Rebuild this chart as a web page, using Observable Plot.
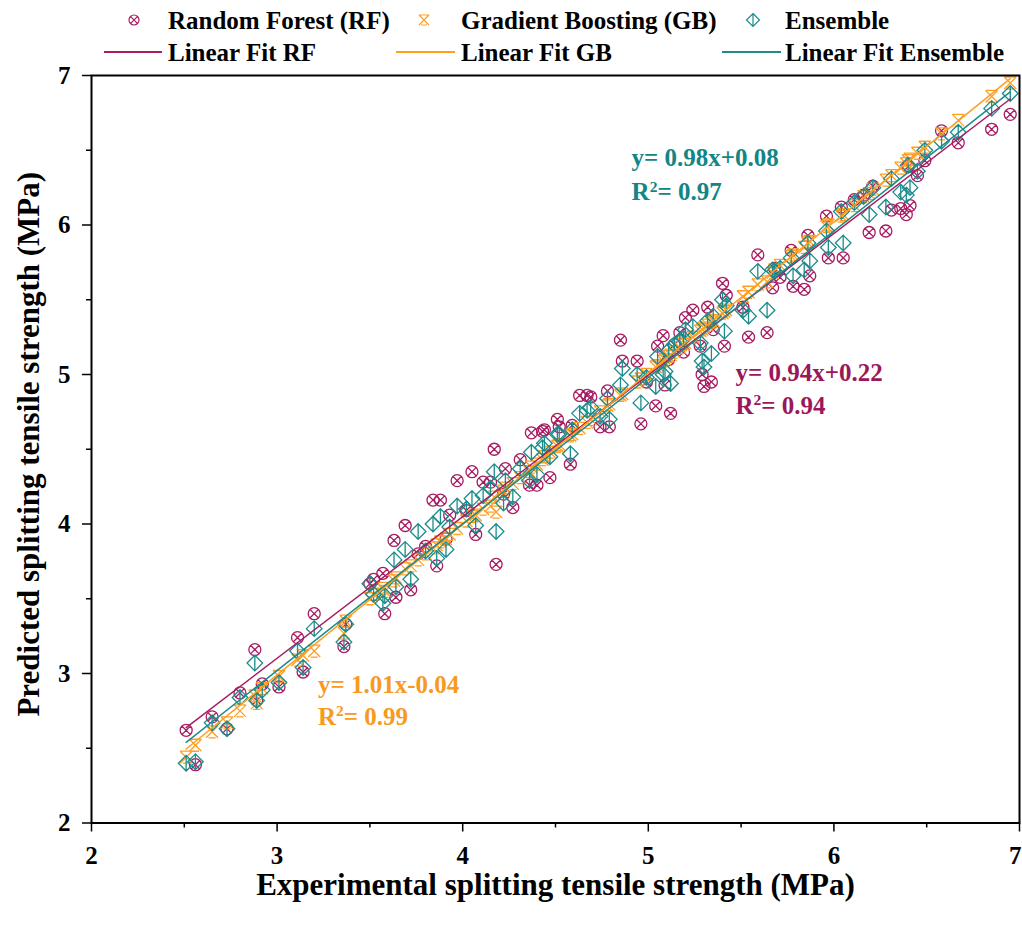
<!DOCTYPE html>
<html><head><meta charset="utf-8">
<script src="https://cdn.jsdelivr.net/npm/d3@7"></script>
<script src="https://cdn.jsdelivr.net/npm/@observablehq/plot@0.6"></script>
<style>
body{margin:0;background:#fff;}
#wrap{position:relative;width:1022px;height:925px;}
</style></head><body><div id="wrap"></div>
<script>
// ---------- data ----------
const experimental = [2.51,2.56,2.65,2.73,2.80,2.88,2.89,2.92,3.01,3.11,3.14,3.20,3.36,3.37,
3.50,3.52,3.57,3.58,3.63,3.64,3.69,3.72,3.76,3.80,3.84,3.86,3.88,3.91,3.93,3.97,
4.02,4.05,4.07,4.11,4.15,4.17,4.18,4.22,4.23,4.27,4.31,4.36,4.37,4.40,4.43,4.44,4.47,4.51,4.52,4.58,
4.59,4.63,4.67,4.69,4.74,4.78,4.79,4.85,4.86,4.94,4.96,4.99,5.04,5.05,5.08,5.09,5.11,5.12,5.14,5.17,
5.19,5.20,5.24,5.28,5.29,5.30,5.32,5.34,5.35,5.40,5.41,5.42,5.51,5.54,5.59,5.64,5.67,5.68,5.71,5.77,
5.78,5.84,5.86,5.87,5.96,5.97,6.04,6.05,6.11,6.16,6.19,6.21,6.28,6.31,6.36,6.39,6.40,6.41,6.45,6.49,
6.58,6.67,6.85,6.95];
const predictedRF = [2.62,2.39,2.71,2.63,2.87,3.16,2.82,2.93,2.91,3.24,3.01,3.40,3.18,3.33,
3.60,3.63,3.67,3.40,3.89,3.51,3.99,3.56,3.80,3.85,4.16,3.72,4.16,3.90,4.06,4.29,
4.09,4.35,3.93,4.28,4.28,4.50,3.73,4.20,4.37,4.11,4.43,4.26,4.61,4.26,4.62,4.63,4.31,4.70,4.65,4.40,
4.66,4.86,4.86,4.85,4.65,4.89,4.65,5.23,5.09,5.09,4.67,4.95,4.79,5.19,5.26,4.93,5.10,4.74,5.20,5.28,
5.15,5.38,5.43,5.19,5.00,4.92,5.45,4.95,5.30,5.61,5.19,5.53,5.45,5.25,5.80,5.28,5.58,5.71,5.65,5.83,
5.59,5.57,5.93,5.66,6.06,5.78,6.12,5.78,6.17,6.20,5.95,6.26,5.96,6.10,6.11,6.07,6.39,6.13,6.33,6.43,
6.63,6.55,6.64,6.74];
const predictedGB = [2.44,2.52,2.61,2.67,2.75,2.85,2.80,2.90,2.98,3.09,3.12,3.15,3.27,3.35,
3.50,3.53,3.57,3.55,3.62,3.64,3.70,3.72,3.76,3.80,3.84,3.86,3.88,3.90,3.93,3.97,
4.02,4.05,4.06,4.10,4.12,4.18,4.08,4.22,4.24,4.27,4.31,4.35,4.38,4.40,4.43,4.45,4.48,4.52,4.53,4.59,
4.60,4.64,4.68,4.70,4.75,4.79,4.80,4.86,4.87,4.95,4.97,5.00,5.05,5.06,5.09,5.10,5.12,5.13,5.15,5.18,
5.20,5.21,5.25,5.29,5.30,5.31,5.33,5.35,5.36,5.41,5.42,5.43,5.52,5.55,5.60,5.62,5.68,5.70,5.73,5.79,
5.80,5.85,5.88,5.89,5.99,6.00,6.06,6.07,6.13,6.19,6.21,6.24,6.30,6.33,6.38,6.41,6.43,6.44,6.48,6.52,
6.61,6.70,6.86,6.95];
const predictedEnsemble = [2.40,2.41,2.67,2.63,2.84,3.07,2.82,2.89,2.94,3.15,3.04,3.30,3.21,3.33,
3.60,3.53,3.47,3.52,3.76,3.58,3.83,3.63,3.95,3.82,4.00,3.77,4.05,3.83,3.98,4.12,
4.10,4.17,3.99,4.19,4.24,4.35,3.95,4.14,4.29,4.18,4.37,4.29,4.48,4.33,4.51,4.54,4.45,4.60,4.60,4.47,
4.63,4.74,4.76,4.78,4.72,4.84,4.70,4.93,5.04,5.00,4.81,4.98,4.92,5.12,5.00,5.02,5.16,4.94,5.20,5.22,
5.24,5.30,5.32,5.21,5.09,5.05,5.36,5.14,5.39,5.50,5.29,5.46,5.43,5.39,5.69,5.43,5.70,5.69,5.71,5.78,
5.66,5.70,5.88,5.76,5.96,5.85,6.09,5.88,6.15,6.19,6.07,6.25,6.12,6.31,6.22,6.20,6.40,6.25,6.36,6.50,
6.56,6.62,6.78,6.88];

const seriesNames = ["Random Forest (RF)", "Gradient Boosting (GB)", "Ensemble"];
const fitNames = ["Linear Fit RF", "Linear Fit GB", "Linear Fit Ensemble"];
const fitSlope = [0.947, 1.01, 0.98];
const fitIntercept = [0.261, -0.04, 0.08];
const eqText = ["y= 0.94x+0.22", "y= 1.01x-0.04", "y= 0.98x+0.08"];
const r2Text = ["R²= 0.94", "R²= 0.99", "R²= 0.97"];
const majorTicks = [2, 3, 4, 5, 6, 7];
const minorTicks = [2.5, 3.5, 4.5, 5.5, 6.5];
const xTitle = "Experimental splitting tensile strength (MPa)";
const yTitle = "Predicted splitting tensile strength (MPa)";

// ---------- styles / layout ----------
const colors = ["#A81C62", "#FF9E22", "#1C8C8C"];
const textColors = ["#9C165A", "#F79A1E", "#128585"];
const FONT = "'Liberation Serif','Times New Roman',serif";
// annotation anchors (data coordinates)
const annotPos = [
  {x: 5.47, y1: 5.01, y2: 4.79},
  {x: 3.22, y1: 2.92, y2: 2.71},
  {x: 4.91, y1: 6.445, y2: 6.22}
];
const intFmt = d => String(d);

// ---------- symbols ----------
const symRF = {draw(c, size){const r=Math.sqrt(size/Math.PI); c.moveTo(r,0); c.arc(0,0,r,0,2*Math.PI); const a=r*0.72; c.moveTo(-a,-a); c.lineTo(a,a); c.moveTo(-a,a); c.lineTo(a,-a);}};
const symGB = {draw(c, size){const r=Math.sqrt(size/Math.PI); c.moveTo(-r,-r); c.lineTo(r,r); c.moveTo(-r,r); c.lineTo(r,-r); c.moveTo(-r,-r); c.lineTo(r,-r); c.moveTo(-r*0.6,r); c.lineTo(r*0.6,r);}};
const symEN = {draw(c, size){const r=Math.sqrt(size/Math.PI)*1.3; c.moveTo(0,-r); c.lineTo(r,0); c.lineTo(0,r); c.lineTo(-r,0); c.closePath(); c.moveTo(0,-r); c.lineTo(0,r);}};
const symbols = [symRF, symGB, symEN];
const symR = [6, 6, 6];

// ---------- tables ----------
const preds = [predictedRF, predictedGB, predictedEnsemble];
const pointTables = preds.map(p => experimental.map((x, i) => ({x, y: p[i]})));
const xmin = d3.min(experimental), xmax = d3.max(experimental);
const fitTables = fitSlope.map((s, i) => [xmin, xmax].map(x => ({x, y: s * x + fitIntercept[i]})));

const marks = [];
pointTables.forEach((t, i) => {
  marks.push(Plot.dot(t, {x: "x", y: "y", symbol: symbols[i], r: symR[i], fill: "none", stroke: colors[i], strokeWidth: 1.3}));
});
fitTables.forEach((t, i) => {
  marks.push(Plot.line(t, {x: "x", y: "y", stroke: colors[i], strokeWidth: 1.5}));
});
annotPos.forEach((p, i) => {
  marks.push(Plot.text([{x: p.x, y: p.y1, t: eqText[i]}, {x: p.x, y: p.y2, t: r2Text[i]}],
    {x: "x", y: "y", text: "t", fill: textColors[i], textAnchor: "start", fontSize: 25, fontWeight: "bold"}));
});

const innerTicks = majorTicks.slice(0, -1);
const lastTick = majorTicks.slice(-1);

const chart = Plot.plot({
  width: 1022, height: 925,
  marginTop: 75, marginBottom: 102.5, marginLeft: 91, marginRight: 3,
  x: {domain: [2, 7]},
  y: {domain: [2, 7]},
  style: {fontFamily: FONT, background: "white", color: "black", overflow: "visible"},
  marks: [
    ...marks,
    Plot.frame({stroke: "black", strokeWidth: 2}),
    // tick marks
    Plot.axisX({ticks: majorTicks, tickSize: 9, tickFormat: () => "", strokeWidth: 1.5, label: null}),
    Plot.axisX({ticks: minorTicks, tickSize: 5, tickFormat: () => "", strokeWidth: 1.5, label: null}),
    Plot.axisY({ticks: majorTicks, tickSize: 9, tickFormat: () => "", strokeWidth: 1.5, label: null}),
    Plot.axisY({ticks: minorTicks, tickSize: 5, tickFormat: () => "", strokeWidth: 1.5, label: null}),
    // tick labels
    Plot.text(innerTicks, {x: d => d, text: intFmt, frameAnchor: "bottom", dy: 33, lineAnchor: "middle", textAnchor: "middle", fontSize: 25, fontWeight: "bold"}),
    Plot.text(lastTick, {x: d => d, text: intFmt, frameAnchor: "bottom", dy: 33, dx: 2, lineAnchor: "middle", textAnchor: "end", fontSize: 25, fontWeight: "bold"}),
    Plot.text(majorTicks, {y: d => d, text: intFmt, frameAnchor: "left", dx: -21, lineAnchor: "middle", textAnchor: "end", fontSize: 25, fontWeight: "bold"}),
    // axis titles
    Plot.text([xTitle], {text: d => d, frameAnchor: "bottom", dy: 62, lineAnchor: "middle", textAnchor: "middle", fontSize: 31, fontWeight: "bold"}),
    Plot.text([yTitle], {text: d => d, frameAnchor: "left", rotate: -90, dx: -62, dy: -5, lineAnchor: "middle", textAnchor: "middle", fontSize: 31, fontWeight: "bold"})
  ]
});

// superscript for R²
d3.select(chart).selectAll("text").each(function(){
  const t = this.textContent;
  if (t.startsWith("R²")) {
    const rest = t.slice(2);
    this.textContent = "";
    const s = d3.select(this);
    s.append("tspan").text("R");
    s.append("tspan").attr("font-size", "0.62em").attr("dy", "-0.55em").text("2");
    s.append("tspan").attr("dy", "0.34em").text(rest);
  }
});

const wrap = document.getElementById("wrap");
wrap.appendChild(chart);

// ---------- legend ----------
const leg = d3.select(wrap).append("svg")
  .attr("width", 1022).attr("height", 72)
  .style("position", "absolute").style("left", "0px").style("top", "0px")
  .style("font-family", FONT);
const row1 = 20, row2 = 52;
const symX = [134, 424, 753];
const textX = [168, 461, 785];
const lineX = [[104, 162], [396, 455], [722, 781]];
seriesNames.forEach((name, i) => {
  const p = d3.path(); symbols[i].draw(p, 5 * 5 * Math.PI);
  leg.append("path").attr("d", p.toString()).attr("transform", `translate(${symX[i]},${row1})`)
    .attr("fill", "none").attr("stroke", colors[i]).attr("stroke-width", 1.2);
  leg.append("text").attr("x", textX[i]).attr("y", row1).attr("dy", "0.35em")
    .attr("font-size", 25).attr("font-weight", "bold").text(name);
  leg.append("line").attr("x1", lineX[i][0]).attr("x2", lineX[i][1]).attr("y1", row2).attr("y2", row2)
    .attr("stroke", colors[i]).attr("stroke-width", 1.8);
  leg.append("text").attr("x", textX[i]).attr("y", row2).attr("dy", "0.35em")
    .attr("font-size", 25).attr("font-weight", "bold").text(fitNames[i]);
});
</script>
</body></html>
